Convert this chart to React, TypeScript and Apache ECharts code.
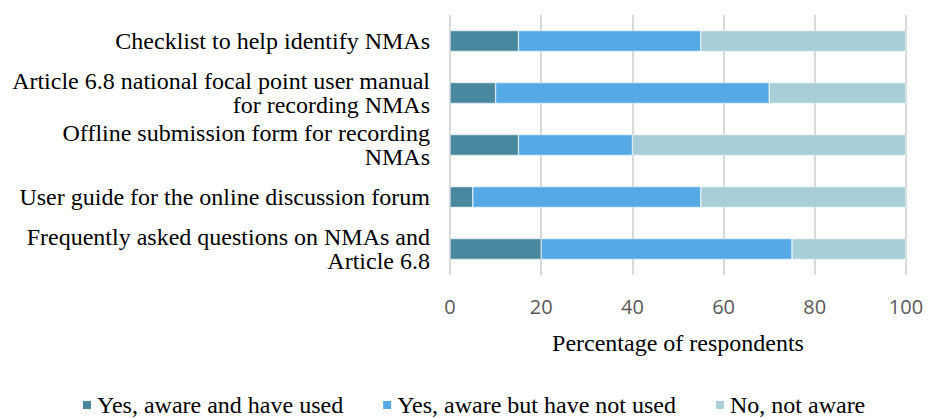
import React, { useEffect, useRef } from "react";
import * as echarts from "echarts";

const categories = [
  "Checklist to help identify NMAs",
  "Article 6.8 national focal point user manual\nfor recording NMAs",
  "Offline submission form for recording\nNMAs",
  "User guide for the online discussion forum",
  "Frequently asked questions on NMAs and\nArticle 6.8",
];
const seriesNames = [
  "Yes, aware and have used",
  "Yes, aware but have not used",
  "No, not aware",
];
const awareUsed = [15, 10, 15, 5, 20];
const awareNotUsed = [40, 60, 25, 50, 55];
const notAware = [45, 30, 60, 45, 25];
const xTicks = [0, 20, 40, 60, 80, 100];

const colors = ["#4A88A0", "#55A9E5", "#A8CFD8"];
const serif = "'Liberation Serif', 'Times New Roman', serif";

export default function App() {
  const ref = useRef<HTMLDivElement>(null);
  useEffect(() => {
    if (!ref.current) return;
    const chart = echarts.init(ref.current, null, { renderer: "svg" });
    const data = [awareUsed, awareNotUsed, notAware];
    chart.setOption({
      animation: false,
      grid: { left: 450, right: 22, top: 15, bottom: 144, containLabel: false },
      legend: {
        top: 393,
        left: 76,
        padding: [0, 5, 0, 5],
        icon: "rect",
        itemWidth: 10,
        itemHeight: 10,
        itemGap: 38,
        textStyle: { fontFamily: serif, fontSize: 24, lineHeight: 20, color: "#000" },
        data: seriesNames,
      },
      xAxis: {
        type: "value",
        min: xTicks[0],
        max: xTicks[xTicks.length - 1],
        interval: 20,
        name: "Percentage of respondents",
        nameLocation: "middle",
        nameGap: 56,
        nameTextStyle: { fontFamily: serif, fontSize: 24, color: "#000" },
        axisLine: { show: false },
        axisTick: { show: false },
        axisLabel: {
          margin: 21,
          fontFamily: "'Open Sans', sans-serif",
          fontSize: 20,
          color: "#595959",
        },
        splitLine: { show: true, lineStyle: { color: "#D9D9D9", width: 2 } },
      },
      yAxis: {
        type: "category",
        inverse: true,
        data: categories,
        axisLine: { show: false },
        axisTick: { show: false },
        axisLabel: {
          margin: 20,
          fontFamily: serif,
          fontSize: 24,
          lineHeight: 24,
          color: "#000",
          align: "right",
        },
      },
      series: seriesNames.map((name, i) => ({
        name,
        type: "bar",
        stack: "total",
        barWidth: "40%",
        data: data[i],
        itemStyle: { color: colors[i], borderColor: "#ffffff", borderWidth: 0.5 },
      })),
    });
    return () => chart.dispose();
  }, []);
  return <div ref={ref} style={{ width: 928, height: 419, position: "absolute", left: 0, top: 0 }} />;
}
